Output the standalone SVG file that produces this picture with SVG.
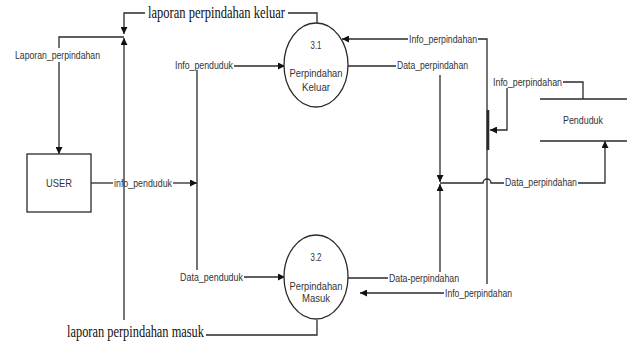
<svg xmlns="http://www.w3.org/2000/svg" width="632" height="345" viewBox="0 0 632 345">
<style>
.ln{fill:none;stroke:#2a2a2a;stroke-width:1.3}
.sh{fill:#fff;stroke:#2a2a2a;stroke-width:1.3}
.t{font-family:"Liberation Sans",Arial,sans-serif;font-size:11px;fill:#333}
.c{text-anchor:middle}
.s{font-family:"Liberation Serif","Times New Roman",serif;font-size:16px;fill:#111}
</style>
<defs>
<marker id="ar" viewBox="0 0 10 10" refX="10" refY="5" markerWidth="7" markerHeight="7" markerUnits="userSpaceOnUse" orient="auto">
<path d="M0,0 L10,5 L0,10 z" fill="#111"/>
</marker>
</defs>
<rect width="632" height="345" fill="#fff"/>
<g id="connectors">
<path class="ln" d="M317,23 V13 H288"/>
<path class="ln" d="M145,13 H124 V34" marker-end="url(#ar)"/>
<path class="ln" d="M124,37 H59 V48"/>
<path class="ln" d="M59,62 V154" marker-end="url(#ar)"/>
<path class="ln" d="M124,320 V38" marker-end="url(#ar)"/>
<path class="ln" d="M317,320 V335 H206"/>
<path class="ln" d="M91,183 H113"/>
<path class="ln" d="M173,183 H197" marker-end="url(#ar)"/>
<path class="ln" d="M197,70 V270"/>
<path class="ln" d="M234,66 H285" marker-end="url(#ar)"/>
<path class="ln" d="M244,277 H285" marker-end="url(#ar)"/>
<path class="ln" d="M487,284 V39 H478"/>
<path class="ln" d="M408,39 H342" marker-end="url(#ar)"/>
<path class="ln" d="M444,293 H360" marker-end="url(#ar)"/>
<path class="ln" d="M348,66 H396"/>
<path class="ln" d="M440,75 V182" marker-end="url(#ar)"/>
<path class="ln" d="M347,278 H388"/>
<path class="ln" d="M440,272 V184" marker-end="url(#ar)"/>
<path class="ln" d="M440,183 H483 A4,4 0 0 1 491,183 H504"/>
<path class="ln" d="M578,183 H605 V141" marker-end="url(#ar)"/>
<path class="ln" d="M583,99 V82 H563"/>
<path class="ln" d="M507,88 V130 H490" marker-end="url(#ar)"/>
<path class="ln" d="M488,110 V150" style="stroke-width:2.6"/>
<text class="s" x="148" y="18" textLength="137" lengthAdjust="spacingAndGlyphs">laporan perpindahan keluar</text>
<text class="s" x="67" y="337" textLength="137" lengthAdjust="spacingAndGlyphs">laporan perpindahan masuk</text>
<text class="t" x="15" y="59" textLength="85" lengthAdjust="spacingAndGlyphs">Laporan_perpindahan</text>
<text class="t" x="175" y="69" textLength="58" lengthAdjust="spacingAndGlyphs">Info_penduduk</text>
<text class="t" x="114" y="187" textLength="58" lengthAdjust="spacingAndGlyphs">info_penduduk</text>
<text class="t" x="180" y="281" textLength="63" lengthAdjust="spacingAndGlyphs">Data_penduduk</text>
<text class="t" x="409" y="43" textLength="68" lengthAdjust="spacingAndGlyphs">Info_perpindahan</text>
<text class="t" x="397" y="69" textLength="71" lengthAdjust="spacingAndGlyphs">Data_perpindahan</text>
<text class="t" x="493" y="86" textLength="69" lengthAdjust="spacingAndGlyphs">Info_perpindahan</text>
<text class="t" x="505" y="186" textLength="72" lengthAdjust="spacingAndGlyphs">Data_perpindahan</text>
<text class="t" x="389" y="282" textLength="70" lengthAdjust="spacingAndGlyphs">Data-perpindahan</text>
<text class="t" x="445" y="297" textLength="67" lengthAdjust="spacingAndGlyphs">Info_perpindahan</text>
</g>
<g id="user">
<rect class="sh" x="27" y="154" width="64" height="58"/>
<text class="t c" x="59" y="187" textLength="26" lengthAdjust="spacingAndGlyphs">USER</text>
</g>
<g id="p31">
<ellipse class="sh" cx="316" cy="65" rx="32" ry="42"/>
<text class="t c" x="316" y="49" textLength="11" lengthAdjust="spacingAndGlyphs">3.1</text>
<text class="t c" x="316" y="77" textLength="53" lengthAdjust="spacingAndGlyphs">Perpindahan</text>
<text class="t c" x="316" y="91" textLength="28" lengthAdjust="spacingAndGlyphs">Keluar</text>
</g>
<g id="p32">
<ellipse class="sh" cx="316" cy="277" rx="32" ry="42"/>
<text class="t c" x="316" y="261" textLength="11" lengthAdjust="spacingAndGlyphs">3.2</text>
<text class="t c" x="316" y="290" textLength="53" lengthAdjust="spacingAndGlyphs">Perpindahan</text>
<text class="t c" x="316" y="302" textLength="28" lengthAdjust="spacingAndGlyphs">Masuk</text>
</g>
<g id="penduduk">
<path class="ln" d="M540,99 H627 M540,141 H627"/>
<text class="t c" x="583" y="124" textLength="40" lengthAdjust="spacingAndGlyphs">Penduduk</text>
</g>
</svg>
